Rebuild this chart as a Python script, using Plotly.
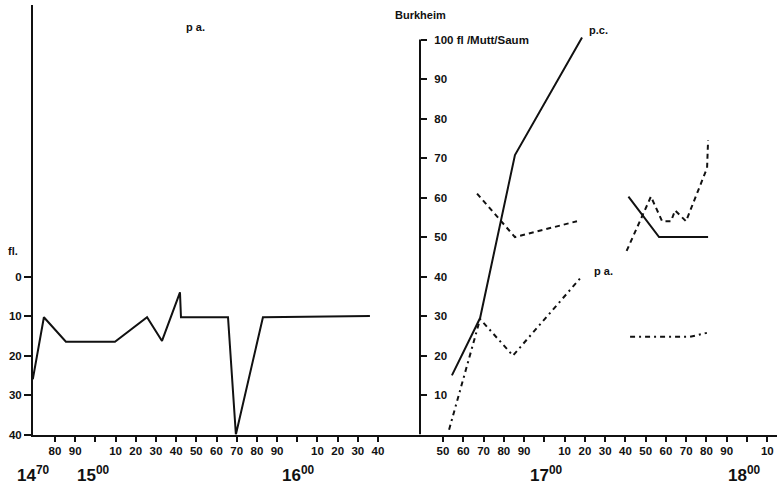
import plotly.graph_objects as go

# ---- data ----
left_years = [1469, 1474.5, 1485.4, 1509.7, 1525.6, 1533, 1541.9, 1542.4, 1565.7, 1569.6, 1583, 1636]
left_vals = [26, 10.3, 16.5, 16.5, 10.3, 16.3, 4, 10.3, 10.3, 40, 10.3, 10]

pc_years = [1654.4, 1668.3, 1685.5, 1718.6, None, 1741.5, 1756.6, 1780.8]
pc_vals = [15, 29.5, 70.75, 100.5, None, 60.25, 50, 50]

dash_years = [1666.8, 1685.5, 1716.1, None, 1740.6, 1752.6, 1758.1, 1762.5, 1764.5, 1769.9, 1780.3, 1780.8]
dash_vals = [61, 50, 54, None, 46.5, 60.25, 54, 54, 56.75, 54, 67.5, 74.5]

pa_years = [1653, 1668.3, 1684.5, 1717.6, None, 1742.3, 1771.9, 1780.2]
pa_vals = [1.25, 29.25, 20, 39.5, None, 24.75, 24.75, 25.75]

left_ticks = list(range(1480, 1641, 10))
right_ticks = list(range(1650, 1811, 10))
left_yticks = [0, 10, 20, 30, 40]
right_yticks = [10, 20, 30, 40, 50, 60, 70, 80, 90, 100]
right_ytext = ["10", "20", "30", "40", "50", "60", "70", "80", "90", "100 fl /Mutt/Saum"]
centuries = [("14", "70", 1469.5), ("15", "00", 1499), ("16", "00", 1600.5), ("17", "00", 1701), ("18", "00", 1799)]


W, H = 777, 489
FONT = "Liberation Sans"
BLACK = "#111111"

fig = go.Figure()
fig.add_trace(go.Scatter(x=left_years, y=left_vals, mode="lines", xaxis="x", yaxis="y",
                         line=dict(color=BLACK, width=2), showlegend=False))
fig.add_trace(go.Scatter(x=pc_years, y=pc_vals, mode="lines", xaxis="x2", yaxis="y2",
                         line=dict(color=BLACK, width=2), connectgaps=False, showlegend=False))
fig.add_trace(go.Scatter(x=dash_years, y=dash_vals, mode="lines", xaxis="x2", yaxis="y2",
                         line=dict(color=BLACK, width=2, dash="5px,4px"), connectgaps=False, showlegend=False))
fig.add_trace(go.Scatter(x=pa_years, y=pa_vals, mode="lines", xaxis="x2", yaxis="y2",
                         line=dict(color=BLACK, width=2, dash="5px,4px,2px,4px"), connectgaps=False, showlegend=False))

ybot = (H - 440) / H
ytop = (H - 5) / H
tickfont = dict(family=FONT, size=11.5, color=BLACK, weight="bold")


def xaxis_cfg(ticks_all, dom, rng, anchor):
    labelled = [t for t in ticks_all if t % 100 != 0]
    return dict(domain=dom, range=rng, anchor=anchor,
                showline=True, linecolor=BLACK, linewidth=2, showgrid=False, zeroline=False,
                ticks="outside", ticklen=5, tickwidth=1.5, tickcolor=BLACK,
                tickvals=labelled, ticktext=[str(t % 100) for t in labelled], tickfont=tickfont,
                minor=dict(tickvals=ticks_all, ticks="outside", ticklen=5, tickwidth=1.5,
                           tickcolor=BLACK, showgrid=False))


fig.update_layout(
    width=W, height=H, margin=dict(l=0, r=0, t=0, b=0),
    paper_bgcolor="white", plot_bgcolor="white",
    font=dict(family=FONT, color=BLACK),
    xaxis=xaxis_cfg(left_ticks, [33 / W, 420 / W], [1469.1, 1660.8], "y"),
    xaxis2=xaxis_cfg(right_ticks, [420 / W, 1.0], [1638.65, 1814.8], "y2"),
    yaxis=dict(domain=[ybot, ytop], range=[40, -68.75], anchor="x",
               showline=True, linecolor=BLACK, linewidth=2, showgrid=False, zeroline=False,
               ticks="outside", ticklen=7, tickwidth=1.5, tickcolor=BLACK,
               tickvals=left_yticks, ticktext=[str(v) for v in left_yticks], tickfont=tickfont),
    yaxis2=dict(domain=[ybot, ytop], range=[0, 108.75], anchor="free", position=420 / W,
                side="right",
                showline=False, showgrid=False, zeroline=False,
                ticks="outside", ticklen=6, tickwidth=1.5, tickcolor=BLACK,
                ticklabelstandoff=5,
                tickvals=right_yticks, ticktext=right_ytext, tickfont=tickfont),
)

# right vertical axis line (0..100)
fig.add_shape(type="line", xref="x2 domain", yref="y2", x0=0, x1=0, y0=0, y1=100,
              line=dict(color=BLACK, width=2))

# century labels
for big, sup, yr in centuries:
    ax = "x" if yr < 1650 else "x2"
    fig.add_annotation(x=yr, y=(H - 480) / H, xref=ax, yref="paper", showarrow=False,
                       text=f"<b>{big}<sup>{sup}</sup></b>", xanchor="center", yanchor="middle",
                       font=dict(family=FONT, size=17, color=BLACK))

labels = [
    ("p a.", 196, 27),
    ("Burkheim", 420, 15),
    ("p.c.", 598, 30),
    ("p a.", 603, 274),
    ("fl.", 13, 254),
]
for txt, px, py in labels:
    fig.add_annotation(x=px / W, y=(H - py) / H, xref="paper", yref="paper", showarrow=False,
                       text=f"<b>{txt}</b>", xanchor="center", yanchor="middle",
                       font=dict(family=FONT, size=11, color=BLACK))

fig.write_html("out.html")
